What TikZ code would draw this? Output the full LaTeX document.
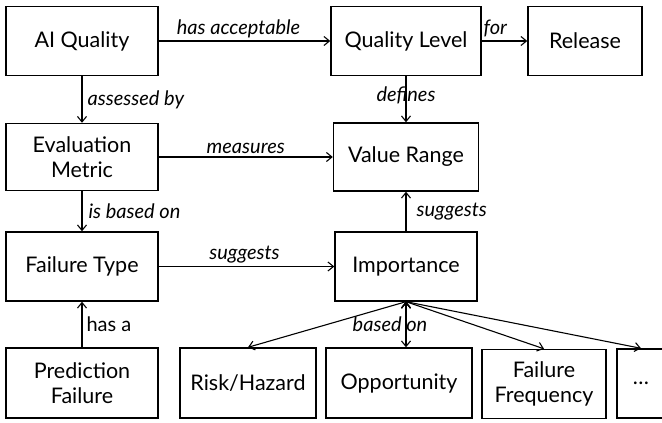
\documentclass[tikz,border=0pt]{standalone}
\usepackage{fontspec}
\setmainfont{Lato}
\usetikzlibrary{arrows.meta}
\begin{document}
\begin{tikzpicture}[x=1pt, y=-1pt,
  box/.style={shape=rectangle, draw=black, line width=1.4pt, minimum height=69pt, inner sep=0pt, align=center, font=\fontsize{21.5}{25}\selectfont},
  rel/.style={-{Straight Barb[length=5.5pt,width=9pt]}, line width=1.1pt, draw=black},
  lbl/.style={font=\fontsize{20}{22}\selectfont\itshape, inner sep=3pt}]
\useasboundingbox (0,0) rectangle (662,423);
\node[box, minimum width=152pt] (AIQ) at (82,41) {AI Quality};
\node[box, minimum width=150pt] (QL) at (406,41) {Quality Level};
\node[box, minimum width=114pt] (Rel) at (585,41) {Release};
\node[box, minimum width=152pt, minimum height=67pt] (EM) at (82,157) {Evaluation\\Metric};
\node[box, minimum width=145pt, minimum height=68pt] (VR) at (406,157) {Value Range};
\node[box, minimum width=152pt] (FT) at (82,266.5) {Failure Type};
\node[box, minimum width=142pt] (Imp) at (406,266.5) {Importance};
\node[box, minimum width=152pt, minimum height=70pt] (PF) at (82,383) {Prediction\\Failure};
\node[box, minimum width=136pt, minimum height=70pt] (RH) at (248,383) {Risk/Hazard};
\node[box, minimum width=146pt, minimum height=70pt] (Opp) at (399,383) {Opportunity};
\node[box, minimum width=124pt, minimum height=69pt] (FF) at (544,384) {Failure\\Frequency};
\node[box, minimum width=48pt, minimum height=69pt] (More) at (641,383.5) {\dots};
\path [rel] (AIQ) edge node[lbl, above, xshift=-6pt] {has acceptable} (QL);
\path [rel] (QL) edge node[lbl, above, pos=0.3] {for} (Rel);
\path [rel] (AIQ) edge node[lbl, right, inner sep=5pt] {assessed by} (EM);
\path [rel] (QL) edge node[lbl, pos=0.42] {defines} (VR);
\path [rel] (EM) edge node[lbl, above] {measures} (VR);
\path [rel] (EM) edge node[lbl, right, inner sep=6pt] {is based on} (FT);
\path [rel] (FT) edge node[lbl, above, xshift=-2pt] {suggests} (Imp);
\path [rel] (Imp) edge node[lbl, right, inner sep=10pt] {suggests} (VR);
\path [rel] (PF) edge node[right, inner sep=4pt, font=\fontsize{20}{22}\selectfont] {has a} (FT);
\path [rel] (Imp.south) edge (RH.north);
\path [rel] (Imp.south) edge node[lbl, xshift=-16pt, pos=0.5] {based on} (Opp.north -| Imp.south);
\path [rel] (Imp.south) edge (FF.north);
\path [rel] (Imp.south) edge (More.north);
\end{tikzpicture}
\end{document}
